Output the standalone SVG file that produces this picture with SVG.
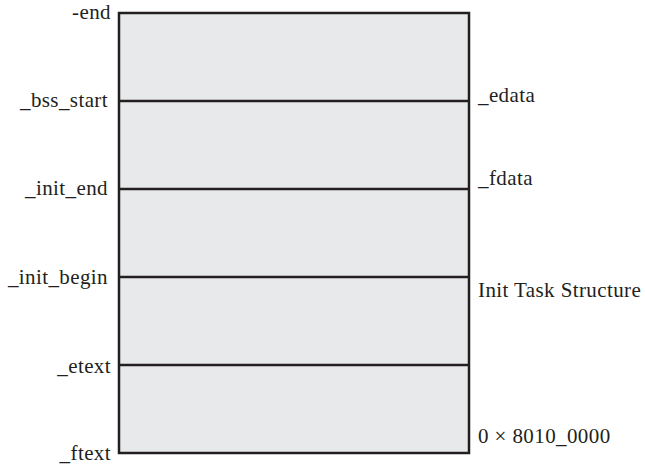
<svg xmlns="http://www.w3.org/2000/svg" width="645" height="465" viewBox="0 0 645 465">
<style>
.t{font-family:"Liberation Serif","Times New Roman",serif;font-size:21px;letter-spacing:0.4px;fill:#231f20}
.l{text-anchor:end}
.box{fill:#e8e9eb;stroke:#231f20;stroke-width:2.5}
.div{stroke:#231f20;stroke-width:2.5;fill:none}
</style>
<rect width="645" height="465" fill="#ffffff"/>
<g id="memory">
<rect class="box" x="119" y="13" width="350" height="440"/>
</g>
<g id="connectors">
<line class="div" x1="119" y1="101" x2="469" y2="101"/>
<line class="div" x1="119" y1="189" x2="469" y2="189"/>
<line class="div" x1="119" y1="277" x2="469" y2="277"/>
<line class="div" x1="119" y1="365" x2="469" y2="365"/>
</g>
<g id="left-labels">
<text class="t l" x="111" y="19">-end</text>
<text class="t l" x="108" y="107">_bss_start</text>
<text class="t l" x="108" y="195">_init_end</text>
<text class="t l" x="108" y="284">_init_begin</text>
<text class="t l" x="111" y="373">_etext</text>
<text class="t l" x="111" y="460">_ftext</text>
</g>
<g id="right-labels">
<text class="t" x="478" y="102">_edata</text>
<text class="t" x="478" y="185">_fdata</text>
<text class="t" x="478" y="297">Init Task Structure</text>
<text class="t" x="478" y="443">0 × 8010_0000</text>
</g>
</svg>
